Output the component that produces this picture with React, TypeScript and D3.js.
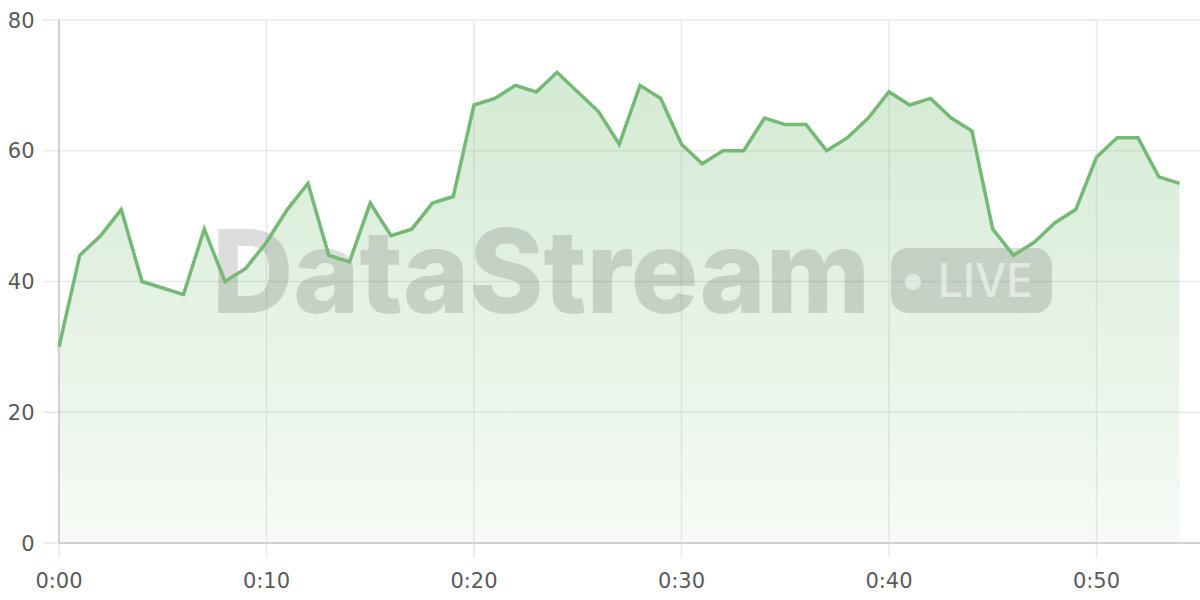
import React from "react";
import * as d3 from "d3";

const minutes: number[] = Array.from({ length: 55 }, (_, i) => i);
const values: number[] = [
  30, 44, 47, 51, 40, 39, 38, 48, 40, 42,
  46, 51, 55, 44, 43, 52, 47, 48, 52, 53,
  67, 68, 70, 69, 72, 69, 66, 61, 70, 68,
  61, 58, 60, 60, 65, 64, 64, 60, 62, 65,
  69, 67, 68, 65, 63, 48, 44, 46, 49, 51,
  59, 62, 62, 56, 55,
];
const yTicks: number[] = [0, 20, 40, 60, 80];
const xTicks: number[] = [0, 10, 20, 30, 40, 50];
const xTickLabels: string[] = ["0:00", "0:10", "0:20", "0:30", "0:40", "0:50"];
const watermarkTitle = "DataStream";
const watermarkBadge = "LIVE";

const W = 1200;
const H = 600;
const LEFT = 59;
const TOP = 20;
const BOTTOM = 543;
const RIGHT_EDGE = 1200;

export default function App() {
  const x = d3.scaleLinear().domain([0, 54]).range([LEFT, 1179.5]);
  const y = d3.scaleLinear().domain([0, 80]).range([BOTTOM, TOP]);
  const data = minutes.map((m, i) => ({ m, v: values[i] }));

  const line = d3
    .line<{ m: number; v: number }>()
    .x((d) => x(d.m))
    .y((d) => y(d.v));
  const area = d3
    .area<{ m: number; v: number }>()
    .x((d) => x(d.m))
    .y0(y(0))
    .y1((d) => y(d.v));

  const font = "'DejaVu Sans', sans-serif";
  const wmFill = "rgba(90,90,90,0.21)";

  return (
    <svg
      width={W}
      height={H}
      viewBox={`0 0 ${W} ${H}`}
      style={{ position: "absolute", left: 0, top: 0, background: "#fff" }}
    >
      <defs>
        <linearGradient id="areaGrad" gradientUnits="userSpaceOnUse" x1="0" y1={TOP} x2="0" y2={BOTTOM}>
          <stop offset="0%" stopColor="#7bbf7b" stopOpacity={0.36} />
          <stop offset="100%" stopColor="#7bbf7b" stopOpacity={0.07} />
        </linearGradient>
      </defs>

      {/* horizontal grid + y ticks */}
      {yTicks.map((t) => (
        <g key={"y" + t}>
          <line x1={43} x2={RIGHT_EDGE} y1={y(t)} y2={y(t)} stroke="#e9e9e9" strokeWidth={1.5} />
          <text
            x={34.5}
            y={y(t)}
            dy="0.36em"
            textAnchor="end"
            fontFamily={font}
            fontSize={21}
            fill="#5a5a5a"
          >
            {t}
          </text>
        </g>
      ))}

      {/* vertical grid + x ticks */}
      {xTicks.map((t, i) => (
        <g key={"x" + t}>
          <line x1={x(t)} x2={x(t)} y1={TOP} y2={558} stroke="#e9e9e9" strokeWidth={1.5} />
          <text
            x={x(t)}
            y={580.5}
            dy="0.36em"
            textAnchor="middle"
            fontFamily={font}
            fontSize={21}
            fill="#5a5a5a"
          >
            {xTickLabels[i]}
          </text>
        </g>
      ))}

      {/* area */}
      <path d={area(data) || ""} fill="url(#areaGrad)" />

      {/* axes */}
      <line x1={LEFT} x2={LEFT} y1={TOP} y2={BOTTOM} stroke="#d0d0d0" strokeWidth={2} />
      <line x1={LEFT} x2={RIGHT_EDGE} y1={BOTTOM} y2={BOTTOM} stroke="#d0d0d0" strokeWidth={2} />

      {/* watermark */}
      <g>
        <text
          x={212}
          y={313}
          fontFamily="Inter, 'DejaVu Sans', sans-serif"
          fontWeight={800}
          fontSize={116}
          textLength={658}
          lengthAdjust="spacingAndGlyphs"
          fill={wmFill}
        >
          {watermarkTitle}
        </text>
        <rect x={891} y={248} width={161} height={65} rx={17} fill={wmFill} />
        <circle cx={913} cy={282} r={8} fill="rgba(255,255,255,0.5)" />
        <text
          x={938}
          y={297}
          fontFamily="Inter, 'DejaVu Sans', sans-serif"
          fontWeight={500}
          fontSize={46}
          textLength={95}
          lengthAdjust="spacingAndGlyphs"
          fill="rgba(255,255,255,0.5)"
        >
          {watermarkBadge}
        </text>
      </g>

      {/* line */}
      <path
        d={line(data) || ""}
        fill="none"
        stroke="#74b974"
        strokeWidth={3.5}
        strokeLinejoin="miter"
      />
    </svg>
  );
}
